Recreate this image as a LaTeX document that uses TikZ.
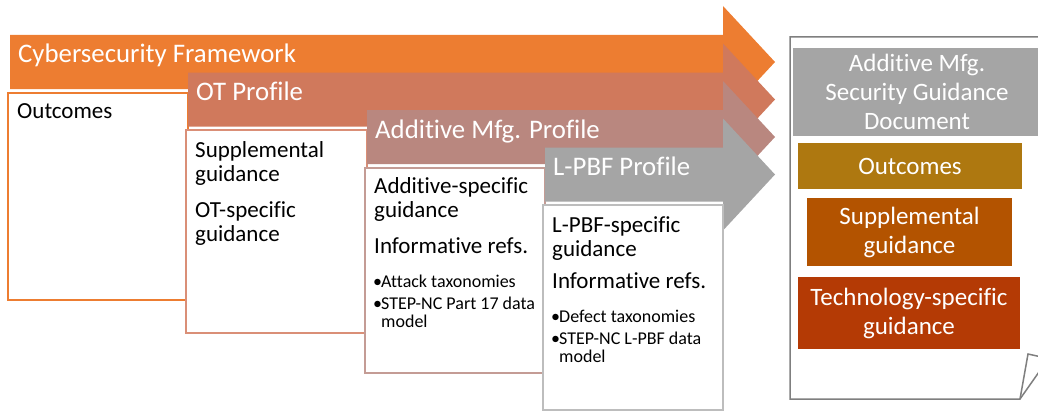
\documentclass[tikz,border=0pt]{standalone}
\usepackage{fontspec}
\setmainfont[Ligatures={NoCommon}]{Carlito}
\definecolor{cyberorange}{HTML}{ED7D31}
\definecolor{otsalmon}{HTML}{D0795C}
\definecolor{otline}{HTML}{DA8F77}
\definecolor{amrose}{HTML}{B9877F}
\definecolor{amline}{HTML}{C49C95}
\definecolor{lpbfgray}{HTML}{A5A5A5}
\definecolor{lpbfline}{HTML}{BDBDBD}
\definecolor{amgold}{HTML}{AE7810}
\definecolor{suppbrown}{HTML}{B35300}
\definecolor{techred}{HTML}{B43A05}
\definecolor{docline}{HTML}{7F7F7F}
\tikzset{
  profilebox/.style={draw=#1, fill=white, line width=2pt},
  heading/.style={text=white, anchor=base west, inner sep=0pt, font=\fontsize{26.8}{30}\selectfont},
  bodytext/.style={anchor=base west, inner sep=0pt, align=left, font=\fontsize{23}{24}\selectfont},
  reftext/.style={anchor=base west, inner sep=0pt, align=left, font=\fontsize{18}{18}\selectfont},
  docpart/.style={fill=#1, text=white, align=center, inner sep=0pt, font=\fontsize{25}{29}\selectfont},
}
\newcommand{\refitem}[1]{\makebox[8pt][l]{\textbullet}#1}
\begin{document}
\begin{tikzpicture}[x=1pt,y=-1pt]
  \useasboundingbox (0,0) rectangle (1038,412);
  \clip (0,0) rectangle (1038,412);
  \foreach \n/\x/\y/\r/\bot/\c/\bc/\title in {
      cyber/10/35/188/300/cyberorange/cyberorange/Cybersecurity Framework,
      ot/188/72.5/367/333/otsalmon/otline/OT Profile,
      am/367/110/545/373/amrose/amline/Additive Mfg. Profile,
      lpbf/545/147.5/723/410/lpbfgray/lpbfline/L-PBF Profile}
  {
    \fill[\c] (\x,\y) -- (723,\y) -- (723,\y+27-56) -- (775,\y+27)
      -- (723,\y+27+56) -- (723,\y+54) -- (\x,\y+54) -- cycle;
    \draw[profilebox=\bc] (\x-2,\y+57.5) rectangle (\r,\bot);
    \node[heading] (\n-title) at (\x+8,\y+28) {\title};
  }
  \node[bodytext] (cyber-out) at (17,118) {Outcomes};
  \node[bodytext] (ot-supp) at (195,181) {Supplemental\\guidance};
  \node[bodytext] (ot-spec) at (195,241) {OT-specific\\guidance};
  \node[bodytext] (am-spec) at (374,217) {Additive-specific\\guidance};
  \node[bodytext] (am-refs) at (374,253) {Informative refs.};
  \node[reftext] (am-list) at (373,327) {\refitem{Attack taxonomies}\\[4pt]
    \refitem{STEP-NC Part 17 data}\\\hspace*{8pt}model};
  \node[bodytext] (lpbf-spec) at (552,256) {L-PBF-specific\\guidance};
  \node[bodytext] (lpbf-refs) at (552,288) {Informative refs.};
  \node[reftext] (lpbf-list) at (551,362) {\refitem{Defect taxonomies}\\[4pt]
    \refitem{STEP-NC L-PBF data}\\\hspace*{8pt}model};
  \draw[docline, line width=1.5pt, fill=white]
    (790,399) -- (790,37) -- (1046,37) -- (1046,362) -- (1020,399) -- cycle;
  \draw[docline, line width=1.5pt] (1020,399) -- (1028,354) -- (1046,358);
  \node[docpart=lpbfgray, minimum width=248, minimum height=88] (doc-title)
    at (917,92) {Additive Mfg.\\Security Guidance\\Document};
  \node[docpart=amgold, minimum width=224, minimum height=46] (doc-out)
    at (910,166) {Outcomes};
  \node[docpart=suppbrown, minimum width=205, minimum height=68] (doc-supp)
    at (909.5,232) {Supplemental\\guidance};
  \node[docpart=techred, minimum width=222, minimum height=72] (doc-tech)
    at (909,313) {Technology-specific\\guidance};
\end{tikzpicture}
\end{document}
